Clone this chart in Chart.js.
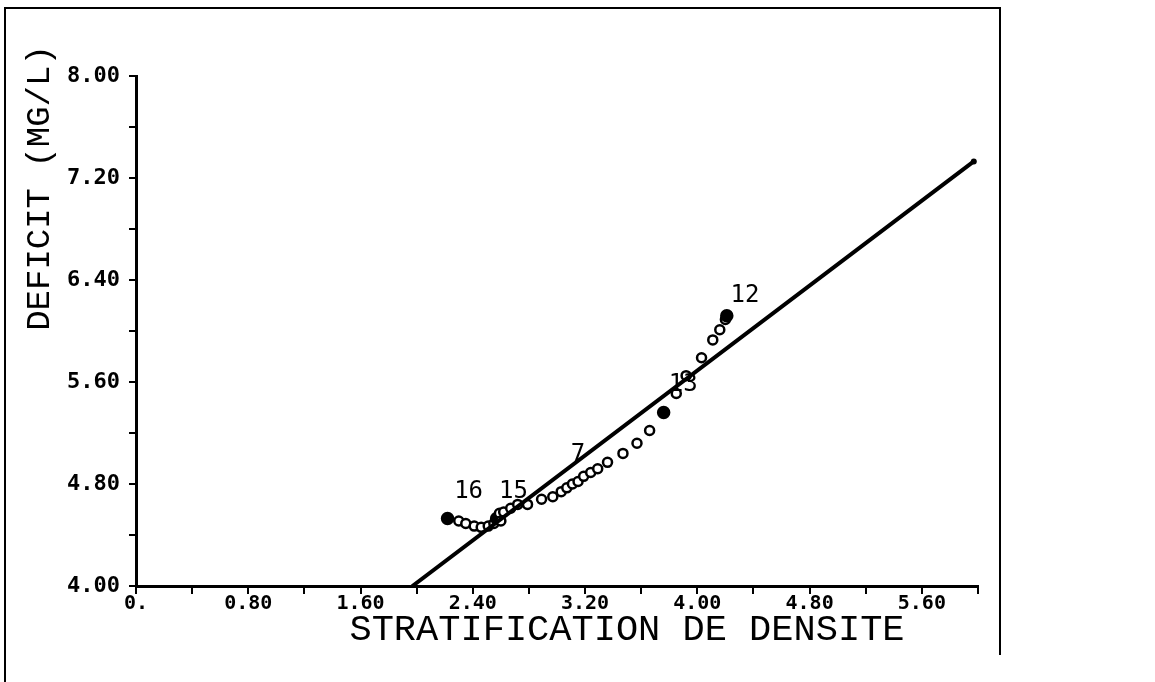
<!DOCTYPE html>
<html>
<head>
<meta charset="utf-8">
<script src="https://cdn.jsdelivr.net/npm/chart.js@4"></script>
<style>
  html, body { margin: 0; padding: 0; background: #fff; }
  #wrap { width: 1155px; height: 682px; }
</style>
</head>
<body>
<div id="wrap"><canvas id="graphe"></canvas></div>
<script>
// valeurs
const stratX = [2.22, 2.30, 2.35, 2.41, 2.46, 2.51, 2.55, 2.57, 2.59, 2.60, 2.62, 2.67, 2.72, 2.79, 2.89, 2.97,
  3.03, 3.07, 3.11, 3.15, 3.19, 3.24, 3.29, 3.36, 3.47, 3.57, 3.66, 3.76, 3.85, 3.92, 4.03, 4.11, 4.16, 4.20, 4.21];
const deficitY = [4.53, 4.51, 4.49, 4.47, 4.46, 4.47, 4.49, 4.53, 4.57, 4.51, 4.58, 4.61, 4.64, 4.64, 4.68, 4.70,
  4.74, 4.77, 4.80, 4.82, 4.86, 4.89, 4.92, 4.97, 5.04, 5.12, 5.22, 5.36, 5.51, 5.65, 5.79, 5.93, 6.01, 6.09, 6.12];
const pleins = [0, 7, 27, 34]; // points noircis

// droite d'ajustement
const droiteX = [1.97, 5.97];
const droiteY = [4.00, 7.33];

// etiquettes des stations
const stations = ['16', '15', '7', '13', '12'];
const stationX = [2.37, 2.69, 3.15, 3.90, 4.34];
const stationY = [4.74, 4.74, 5.03, 5.58, 6.28];

const xTickLabels = ['0.', '0.80', '1.60', '2.40', '3.20', '4.00', '4.80', '5.60'];
const yTickLabels = ['4.00', '4.80', '5.60', '6.40', '7.20', '8.00'];

const police = '"DejaVu Sans Mono", "Liberation Mono", monospace';

const decor = {
  id: 'decor',
  afterDraw(chart) {
    const c = chart.ctx;
    const xs = chart.scales.x, ys = chart.scales.y;
    c.save();
    // cadre
    c.strokeStyle = '#000';
    c.lineWidth = 2;
    c.beginPath();
    c.moveTo(5, 682);
    c.lineTo(5, 8);
    c.lineTo(1000, 8);
    c.lineTo(1000, 655);
    c.stroke();
    // titres
    c.fillStyle = '#000';
    c.textAlign = 'center';
    c.textBaseline = 'middle';
    c.font = '37px "Liberation Mono", monospace';
    c.fillText('STRATIFICATION DE DENSITE', 627, 630);
    c.save();
    c.translate(40, 188);
    c.rotate(-Math.PI / 2);
    c.font = '34px "Liberation Mono", monospace';
    c.fillText('DEFICIT (MG/L)', 0, 0);
    c.restore();
    // numeros de stations
    c.font = '24px ' + police;
    stations.forEach((s, i) => {
      c.fillText(s, xs.getPixelForValue(stationX[i]), ys.getPixelForValue(stationY[i]));
    });
    // point final de la droite
    c.beginPath();
    c.arc(xs.getPixelForValue(droiteX[1]), ys.getPixelForValue(droiteY[1]), 3, 0, 2 * Math.PI);
    c.fill();
    c.restore();
  }
};

new Chart(document.getElementById('graphe'), {
  type: 'scatter',
  data: {
    datasets: [
      {
        label: 'droite',
        type: 'line',
        data: droiteX.map((x, i) => ({ x: x, y: droiteY[i] })),
        borderColor: '#000',
        borderWidth: 4,
        borderCapStyle: 'round',
        pointRadius: 0
      },
      {
        label: 'deficit',
        data: stratX.map((x, i) => ({ x: x, y: deficitY[i] })),
        pointRadius: ctx => pleins.includes(ctx.dataIndex) ? 5.5 : 4.5,
        pointBorderWidth: 2.5,
        pointBorderColor: '#000',
        pointBackgroundColor: ctx => pleins.includes(ctx.dataIndex) ? '#000' : '#fff'
      }
    ]
  },
  plugins: [decor],
  options: {
    responsive: true,
    maintainAspectRatio: false,
    animation: false,
    layout: { padding: { top: 76, right: 177, left: 0, bottom: 0 } },
    plugins: {
      legend: { display: false },
      tooltip: { enabled: false }
    },
    scales: {
      x: {
        type: 'linear',
        min: 0,
        max: 6,
        afterFit: s => { s.height = 96; },
        ticks: {
          stepSize: 0.4,
          autoSkip: false,
          maxRotation: 0,
          padding: -2,
          color: '#000',
          font: { family: police, size: 20, weight: 'bold' },
          callback: (v, i) => i % 2 === 0 ? (xTickLabels[i / 2] || '') : ''
        },
        grid: { drawOnChartArea: false, drawTicks: true, tickLength: 8, color: '#000', lineWidth: 2 },
        border: { display: true, color: '#000', width: 3 }
      },
      y: {
        type: 'linear',
        min: 4,
        max: 8,
        afterFit: s => { s.width = 136; },
        ticks: {
          stepSize: 0.4,
          autoSkip: false,
          padding: 9,
          color: '#000',
          font: { family: police, size: 22, weight: 'bold' },
          callback: (v, i) => i % 2 === 0 ? (yTickLabels[i / 2] || '') : ''
        },
        grid: { drawOnChartArea: false, drawTicks: true, tickLength: 7, color: '#000', lineWidth: 2 },
        border: { display: true, color: '#000', width: 3 }
      }
    }
  }
});
</script>
</body>
</html>
